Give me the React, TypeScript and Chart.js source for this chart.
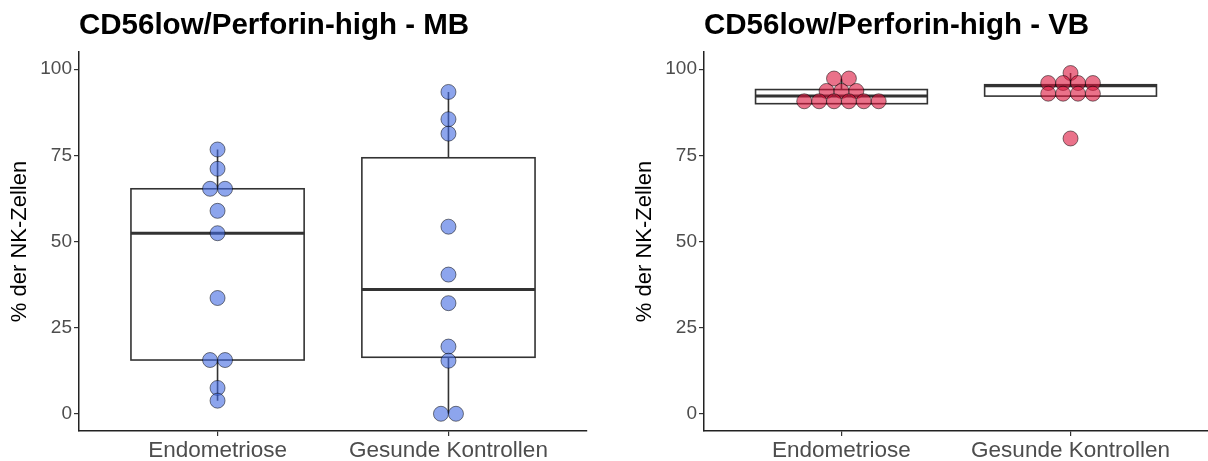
import React, { useEffect, useRef } from "react";
import { Chart, registerables } from "chart.js";

Chart.register(...registerables);

const FONT = "'Liberation Sans', Arial, Helvetica, sans-serif";

const categories = ["Endometriose", "Gesunde Kontrollen"];
const yTicks = [0, 25, 50, 75, 100];
const yTitle = "% der NK-Zellen";

// MB panel values (% der NK-Zellen)
const mbEndometriose = [76.7, 71.1, 65.3, 65.3, 58.9, 52.4, 33.6, 15.6, 15.6, 7.5, 3.8];
const mbGesunde = [93.4, 85.5, 81.3, 54.3, 40.4, 32.1, 19.5, 15.4, 0, 0];
// box stats: [lower whisker, q1, median, q3, upper whisker]
const mbBoxEndometriose = [3.8, 15.6, 52.4, 65.3, 76.7];
const mbBoxGesunde = [0, 16.4, 36.1, 74.3, 93.4];

// VB panel values
const vbEndometriose = [97.3, 97.3, 93.7, 93.7, 93.7, 90.7, 90.7, 90.7, 90.7, 90.7, 90.7];
const vbGesunde = [98.9, 96.0, 96.0, 96.0, 96.0, 92.9, 92.9, 92.9, 92.9, 79.9];
const vbBoxEndometriose = [90.7, 90.0, 92.2, 94.1, 97.3];
const vbBoxGesunde = [92.9, 92.2, 95.2, 95.5, 98.9];

const BLUE_FILL = "rgba(65,105,225,0.6)";
const RED_FILL = "rgba(220,20,60,0.6)";
const DOT_STROKE = "rgba(0,0,0,0.5)";
const DOT_STEP = 0.065; // dot spacing in category units
const BOX_HALF = 0.375;

function dotPoints(values: number[], center: number, step: number) {
  const counts = new Map<number, number>();
  values.forEach((v) => counts.set(v, (counts.get(v) || 0) + 1));
  const seen = new Map<number, number>();
  return values.map((v) => {
    const n = counts.get(v) as number;
    const i = seen.get(v) || 0;
    seen.set(v, i + 1);
    return { x: center + (i - (n - 1) / 2) * step, y: v };
  });
}

const boxPlugin = {
  id: "boxes",
  beforeDatasetsDraw(chart: any, _args: any, opts: any) {
    const { ctx } = chart;
    const x = chart.scales.x;
    const y = chart.scales.y;
    const boxes: number[][] = opts.boxes || [];
    ctx.save();
    boxes.forEach((b, i) => {
      const c = i + 1;
      const xl = x.getPixelForValue(c - BOX_HALF);
      const xr = x.getPixelForValue(c + BOX_HALF);
      const xc = x.getPixelForValue(c);
      const [mn, q1, md, q3, mx] = b.map((v) => y.getPixelForValue(v));
      ctx.strokeStyle = "#333333";
      ctx.lineWidth = 1.6;
      ctx.beginPath();
      ctx.moveTo(xc, q3);
      ctx.lineTo(xc, mx);
      ctx.moveTo(xc, q1);
      ctx.lineTo(xc, mn);
      ctx.stroke();
      ctx.fillStyle = "#ffffff";
      ctx.fillRect(xl, q3, xr - xl, q1 - q3);
      ctx.strokeRect(xl, q3, xr - xl, q1 - q3);
      ctx.lineWidth = 3;
      ctx.beginPath();
      ctx.moveTo(xl, md);
      ctx.lineTo(xr, md);
      ctx.stroke();
    });
    ctx.restore();
  },
};

type PanelProps = {
  title: string;
  series: number[][];
  boxes: number[][];
  fill: string;
  left: number;
  width: number;
  padRight: number;
};

function Panel({ title, series, boxes, fill, left, width, padRight }: PanelProps) {
  const ref = useRef<HTMLCanvasElement | null>(null);
  useEffect(() => {
    if (!ref.current) return;
    const axisGrid = {
      display: true,
      drawOnChartArea: false,
      drawTicks: true,
      tickLength: 5,
      color: "#333333",
      lineWidth: 1.2,
    };
    const axisBorder = { display: true, color: "#222222", width: 1.5 };
    const chart = new Chart(ref.current, {
      type: "scatter",
      data: {
        datasets: series.map((s, i) => ({
          data: dotPoints(s, i + 1, DOT_STEP),
          backgroundColor: fill,
          borderColor: DOT_STROKE,
          borderWidth: 1,
          pointRadius: 7.5,
          pointHoverRadius: 7.5,
          clip: false,
        })),
      },
      options: {
        animation: false,
        responsive: false,
        events: [],
        layout: {
          autoPadding: false,
          padding: { left: 0, right: padRight, top: 0, bottom: 0 },
        },
        plugins: {
          legend: { display: false },
          tooltip: { enabled: false },
          title: {
            display: true,
            text: title,
            align: "start",
            fullSize: false,
            color: "#000000",
            font: { family: FONT, size: 29.5, weight: "bold" },
            padding: { top: 8.3, bottom: 8.3 },
          },
          boxes: { boxes },
        } as any,
        scales: {
          x: {
            type: "linear",
            min: 0.4,
            max: 2.6,
            afterBuildTicks: (s: any) => {
              s.ticks = categories.map((_, i) => ({ value: i + 1 }));
            },
            afterFit: (s: any) => {
              s.height = 30;
              s.paddingLeft = 0;
              s.paddingRight = 0;
            },
            ticks: {
              callback: (v: any) => categories[Math.round(Number(v)) - 1] ?? "",
              color: "#4d4d4d",
              font: { family: FONT, size: 22.5 },
              padding: 1,
              autoSkip: false,
              maxRotation: 0,
            },
            grid: axisGrid,
            border: axisBorder,
          },
          y: {
            type: "linear",
            min: -5,
            max: 105,
            afterBuildTicks: (s: any) => {
              s.ticks = yTicks.map((v) => ({ value: v }));
            },
            afterFit: (s: any) => {
              s.width = 79;
              s.paddingTop = 0;
              s.paddingBottom = 0;
            },
            ticks: {
              color: "#4d4d4d",
              font: { family: FONT, size: 19 },
              padding: 2,
            },
            grid: axisGrid,
            border: axisBorder,
            title: {
              display: true,
              text: yTitle,
              color: "#000000",
              font: { family: FONT, size: 22 },
              padding: { top: 7, bottom: 0 },
            },
          },
        } as any,
      },
      plugins: [boxPlugin as any],
    });
    return () => chart.destroy();
  }, []);
  return (
    <canvas
      ref={ref}
      width={width}
      height={461}
      style={{ position: "absolute", left, top: 0, width, height: 461 }}
    />
  );
}

export default function App() {
  return (
    <div
      style={{
        position: "absolute",
        left: 0,
        top: 0,
        width: 1208,
        height: 461,
        background: "#ffffff",
      }}
    >
      <Panel
        title="CD56low/Perforin-high - MB"
        series={[mbEndometriose, mbGesunde]}
        boxes={[mbBoxEndometriose, mbBoxGesunde]}
        fill={BLUE_FILL}
        left={0}
        width={604}
        padRight={17}
      />
      <Panel
        title="CD56low/Perforin-high - VB"
        series={[vbEndometriose, vbGesunde]}
        boxes={[vbBoxEndometriose, vbBoxGesunde]}
        fill={RED_FILL}
        left={625}
        width={583}
        padRight={0}
      />
    </div>
  );
}
